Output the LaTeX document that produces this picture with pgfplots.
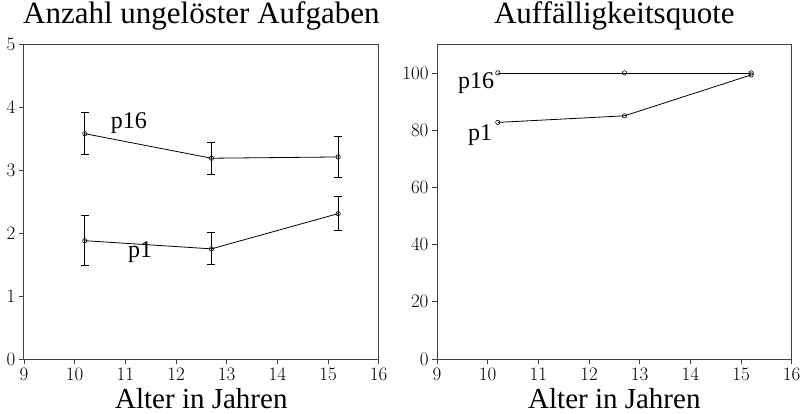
\documentclass[border=0pt]{standalone}
\usepackage{fontspec}
\setmainfont{Liberation Serif}
\newfontfamily\lmfont{Latin Modern Roman}
\usepackage{pgfplots}
\pgfplotsset{compat=1.18}
\usetikzlibrary{calc}
\pgfplotsset{
  myaxis/.style={
    scale only axis, width=354.7pt, height=314.7pt,
    xmin=9, xmax=16, xtick={9,...,16},
    axis line style={black!75, line width=1pt},
    tick style={black!75, line width=0.8pt},
    tick align=outside, major tick length=5pt,
    xtick pos=bottom, ytick pos=left,
    /pgf/number format/assume math mode=true,
    tick label style={font=\lmfont\fontsize{19}{19}\selectfont},
    title style={at={(axis description cs:0.5,1)}, anchor=base, yshift=15pt, font=\fontsize{31}{31}\selectfont},
    xlabel style={at={(axis description cs:0.5,0)}, anchor=base, yshift=-49pt, font=\fontsize{29}{29}\selectfont},
    xlabel={Alter in Jahren},
  },
  ser/.style={black, line width=0.8pt, mark=o, mark size=2.2pt, mark options={line width=0.6pt, solid}},
  eb/.style={error bars/.cd, y dir=both, y explicit,
    error bar style={line width=0.9pt},
    error mark options={rotate=90, mark size=4pt, line width=0.9pt}},
}
\begin{document}
\begin{tikzpicture}
\begin{axis}[myaxis, name=left, ymin=0, ymax=5, ytick={0,...,5},
  title={Anzahl ungelöster Aufgaben}]
\addplot[ser, eb] coordinates {
  (10.2,3.58) +- (0,0.335)
  (12.7,3.19) +- (0,0.25)
  (15.2,3.21) +- (0,0.32)
};
\addplot[ser, eb] coordinates {
  (10.2,1.88) +- (0,0.40)
  (12.7,1.75) +- (0,0.255)
  (15.2,2.31) +- (0,0.265)
};
\node[font=\fontsize{24}{24}\selectfont] at (axis cs:11.07,3.75) {p16};
\node[font=\fontsize{24}{24}\selectfont] at (axis cs:11.29,1.70) {p1};
\end{axis}
\begin{axis}[myaxis, name=right, xshift=413pt, ymin=0, ymax=110, ytick={0,20,...,100},
  title={Auffälligkeitsquote}]
\addplot[ser] coordinates {(10.2,100) (12.7,100) (15.2,100)};
\addplot[ser] coordinates {(10.2,82.7) (12.7,85.0) (15.2,99.3)};
\node[font=\fontsize{24}{24}\selectfont] at (axis cs:9.77,96.3) {p16};
\node[font=\fontsize{24}{24}\selectfont] at (axis cs:9.85,78.2) {p1};
\end{axis}
\pgfresetboundingbox
\path (left.south west) ++(-24pt,-54pt) rectangle ($(left.south west)+(779pt,359pt)$);
\end{tikzpicture}
\end{document}
